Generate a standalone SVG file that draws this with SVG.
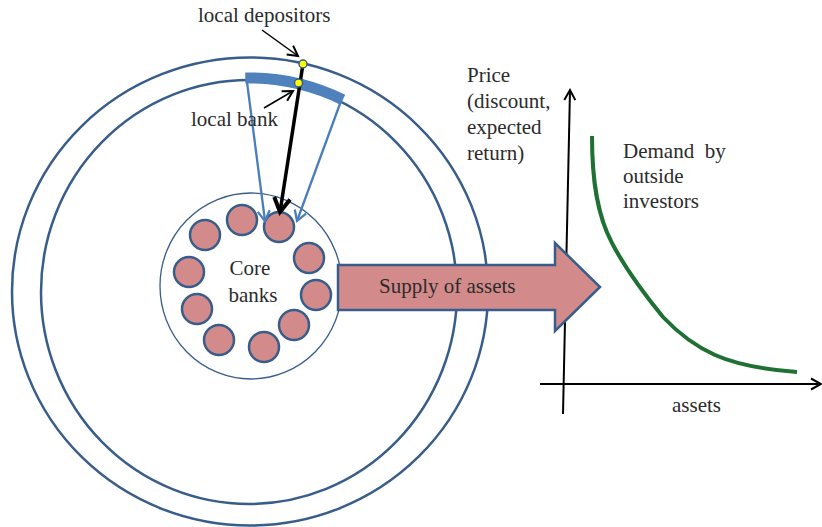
<svg xmlns="http://www.w3.org/2000/svg" width="822" height="527" viewBox="0 0 822 527">
<defs>
<style>
.ring{fill:none;stroke:#385D8A;stroke-width:2.5}
.core{fill:#D28B8A;stroke:#385D8A;stroke-width:2.5}
.t{font-family:"Liberation Serif","Times New Roman",serif;font-size:21px;fill:#2b2b2b}
.blue{stroke:#4A7EBB;stroke-width:2.3;fill:none}
.dot{fill:#FFFF00;stroke:#385D8A;stroke-width:1.5}
</style>
<marker id="mb" markerWidth="14" markerHeight="14" refX="11" refY="7" orient="auto" markerUnits="userSpaceOnUse"><path d="M1,1 L11,7 L1,13" fill="none" stroke="#4A7EBB" stroke-width="2.3"/></marker>
<marker id="mk" markerWidth="14" markerHeight="14" refX="11" refY="7" orient="auto" markerUnits="userSpaceOnUse"><path d="M1,1.5 L11,7 L1,12.5" fill="none" stroke="#000" stroke-width="2"/></marker>
<marker id="mkb" markerWidth="20" markerHeight="20" refX="16" refY="10" orient="auto" markerUnits="userSpaceOnUse"><path d="M2,2 L16,10 L2,18" fill="none" stroke="#000" stroke-width="4"/></marker>
</defs>

<g id="outer-ring"><ellipse class="ring" cx="250" cy="291.5" rx="238" ry="234"/></g>
<g id="inner-ring"><ellipse class="ring" cx="249" cy="292" rx="208" ry="212"/></g>

<g id="local-bank-bar"><path d="M245.3,78 A214,214 0 0 1 342.8,99.7" fill="none" stroke="#4F81BD" stroke-width="11"/></g>

<g id="core-ring"><ellipse cx="251" cy="286" rx="91" ry="93" fill="none" stroke="#385D8A" stroke-width="1.3"/></g>

<g id="core-banks">
<circle class="core" cx="242" cy="220" r="15"/>
<circle class="core" cx="279" cy="227" r="15"/>
<circle class="core" cx="205" cy="235" r="15"/>
<circle class="core" cx="309" cy="258" r="15"/>
<circle class="core" cx="189" cy="272" r="15"/>
<circle class="core" cx="316" cy="295" r="15"/>
<circle class="core" cx="197" cy="309" r="15"/>
<circle class="core" cx="294" cy="325" r="15"/>
<circle class="core" cx="219" cy="340" r="15"/>
<circle class="core" cx="264" cy="347" r="15"/>
<text class="t" x="250" y="275" text-anchor="middle">Core</text>
<text class="t" x="253" y="302" text-anchor="middle">banks</text>
</g>

<g id="connectors">
<line class="blue" x1="247" y1="82" x2="265" y2="221" marker-end="url(#mb)"/>
<line class="blue" x1="341" y1="101" x2="297" y2="221" marker-end="url(#mb)"/>
<line x1="303" y1="64" x2="280" y2="212" stroke="#000" stroke-width="3.5" marker-end="url(#mkb)"/>
<line x1="262" y1="30" x2="298" y2="56" stroke="#000" stroke-width="1.5" marker-end="url(#mk)"/>
<line x1="264" y1="108" x2="293" y2="91" stroke="#000" stroke-width="1.5" marker-end="url(#mk)"/>
</g>

<g id="local-depositors">
<circle class="dot" cx="303" cy="64" r="4"/>
<text class="t" x="198" y="22">local depositors</text>
</g>
<g id="local-bank">
<circle class="dot" cx="298.5" cy="83" r="4"/>
<text class="t" x="191" y="126">local bank</text>
</g>

<g id="axes">
<line x1="563" y1="414" x2="570" y2="90" stroke="#000" stroke-width="2" marker-end="url(#mk)"/>
<line x1="540" y1="384" x2="821" y2="384" stroke="#000" stroke-width="2" marker-end="url(#mk)"/>
<text class="t" x="467" y="82">Price</text>
<text class="t" x="467" y="108">(discount,</text>
<text class="t" x="467" y="134">expected</text>
<text class="t" x="467" y="160">return)</text>
<text class="t" x="672" y="412">assets</text>
</g>

<g id="supply-arrow">
<polygon points="338,265 555,265 555,243 600,287 555,331 555,310 338,310" fill="#D28B8A" stroke="#385D8A" stroke-width="2.5" stroke-linejoin="miter"/>
<text class="t" x="379" y="293">Supply of assets</text>
</g>

<g id="demand-curve">
<path d="M592,136 C592,180 597,215 612,243 C625,268 645,295 663,317 C680,335 695,346 715,355 C740,366 770,370 797,372" fill="none" stroke="#1F7033" stroke-width="4"/>
<text class="t" x="623" y="158" xml:space="preserve">Demand  by</text>
<text class="t" x="623" y="183">outside</text>
<text class="t" x="623" y="208">investors</text>
</g>
</svg>
